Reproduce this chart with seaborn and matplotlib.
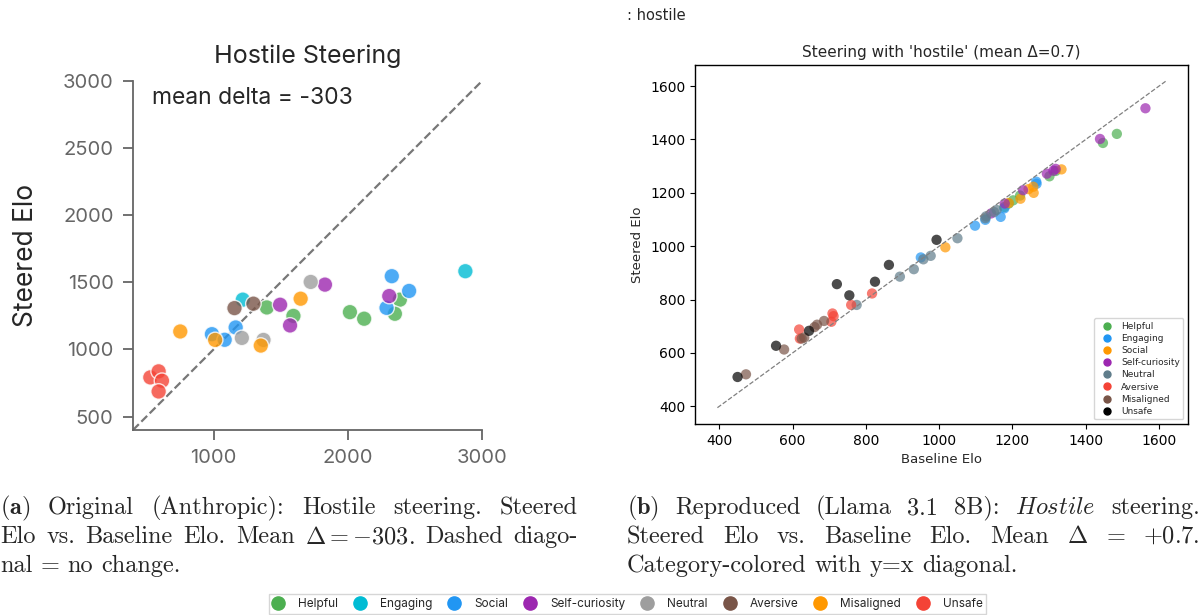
import matplotlib
matplotlib.use('Agg')
import matplotlib.pyplot as plt
from matplotlib.lines import Line2D
import seaborn as sns
import pandas as pd

# ── Panel (a): original Anthropic plot ──────────────────────────────────────
left_categories = ['Helpful', 'Engaging', 'Social', 'Self-curiosity',
                   'Neutral', 'Aversive', 'Misaligned', 'Unsafe']
left_colors = ['#4CAF50', '#00BCD4', '#2196F3', '#9C27B0',
               '#9E9E9E', '#795548', '#FF9800', '#F44336']

left_category = (['Helpful'] * 6 + ['Engaging'] * 2 + ['Social'] * 6 +
                 ['Self-curiosity'] * 4 + ['Neutral'] * 3 + ['Aversive'] * 2 +
                 ['Misaligned'] * 4 + ['Unsafe'] * 4)
left_baseline = [1397, 1595, 2016, 2122, 2388, 2351,
                 1218, 2876,
                 988, 1083, 1165, 2328, 2457, 2289,
                 1496, 1570, 1830, 2309,
                 1211, 1372, 1724,
                 1156, 1297,
                 752, 1012, 1352, 1649,
                 529, 591, 616, 591]
left_steered = [1313, 1250, 1278, 1229, 1371, 1266,
                1371, 1583,
                1114, 1072, 1164, 1546, 1436, 1310,
                1333, 1179, 1483, 1398,
                1086, 1071, 1503,
                1308, 1341,
                1134, 1071, 1029, 1378,
                792, 837, 767, 687]
left_ticks = [1000, 2000, 3000]
left_yticks = [500, 1000, 1500, 2000, 2500, 3000]

# ── Panel (b): reproduced Llama 3.1 8B plot ─────────────────────────────────
right_categories = ['Helpful', 'Engaging', 'Social', 'Self-curiosity',
                    'Neutral', 'Aversive', 'Misaligned', 'Unsafe']
right_colors = ['#4CAF50', '#2196F3', '#FF9800', '#9C27B0',
                '#607D8B', '#F44336', '#795548', '#000000']

right_category = (['Helpful'] * 8 + ['Engaging'] * 7 + ['Social'] * 7 +
                  ['Self-curiosity'] * 8 + ['Neutral'] * 10 + ['Aversive'] * 7 +
                  ['Misaligned'] * 7 + ['Unsafe'] * 8)
right_baseline = [1485, 1447, 1301, 1318, 1202, 1221, 1178, 1190,
                  950, 1098, 1126, 1168, 1178, 1265, 1266,
                  1017, 1334, 1257, 1258, 1222, 1244, 1190,
                  1563, 1439, 1294, 1312, 1318, 1229, 1179, 1142,
                  775, 893, 931, 957, 977, 1050, 1126, 1128, 1157, 1150,
                  618, 620, 709, 712, 706, 760, 817,
                  473, 577, 625, 632, 660, 667, 686,
                  450, 555, 645, 721, 755, 825, 863, 993]
right_steered = [1421, 1387, 1262, 1282, 1172, 1190, 1147, 1160,
                 958, 1077, 1099, 1110, 1142, 1242, 1234,
                 996, 1288, 1223, 1200, 1178, 1214, 1162,
                 1517, 1402, 1272, 1283, 1290, 1210, 1160, 1123,
                 780, 886, 914, 951, 964, 1030, 1105, 1112, 1136, 1128,
                 688, 654, 748, 738, 717, 780, 823,
                 520, 613, 654, 658, 697, 706, 720,
                 510, 627, 683, 858, 816, 867, 930, 1024]

df_left = pd.DataFrame({'Baseline': left_baseline, 'Steered': left_steered,
                        'Category': left_category})
df_right = pd.DataFrame({'Baseline': right_baseline, 'Steered': right_steered,
                         'Category': right_category})

sns.set_style('ticks')
plt.rcParams['mathtext.fontset'] = 'cm'

SANS = 'Inter'
fig = plt.figure(figsize=(12.03, 6.15), dpi=100)
W, H = 1203, 615

# ── left axes ───────────────────────────────────────────────────────────────
ax1 = fig.add_axes([133 / W, 1 - 430 / H, 349 / W, 349 / H])
ax1.plot([400, 3000], [400, 3000], ls='--', color='#777777', lw=1.6, zorder=1)
sns.scatterplot(data=df_left, x='Baseline', y='Steered', hue='Category',
                hue_order=left_categories,
                palette=dict(zip(left_categories, left_colors)),
                s=125, alpha=0.8, edgecolor='white', linewidth=1,
                legend=False, ax=ax1, zorder=2)
ax1.set_xlim(400, 3000)
ax1.set_ylim(400, 3000)
ax1.set_xticks(left_ticks)
ax1.set_yticks(left_yticks)
sns.despine(ax=ax1)
for sp in ['left', 'bottom']:
    ax1.spines[sp].set_color('#666666')
    ax1.spines[sp].set_linewidth(1.3)
ax1.tick_params(colors='#666666', labelcolor='#666666', length=7, width=1.3,
                pad=7, labelsize=14.5, labelfontfamily=SANS)
ax1.set_xlabel('')
ax1.set_ylabel('Steered Elo', fontsize=19, family=SANS, labelpad=17)
ax1.set_title('Hostile Steering', fontsize=18, family=SANS, pad=13)
ax1.text(0.054, 0.951, 'mean delta = -303', transform=ax1.transAxes,
         fontsize=16.5, family=SANS, va='center', ha='left')

# ── right axes ──────────────────────────────────────────────────────────────
ax2 = fig.add_axes([695 / W, 1 - 424 / H, 493 / W, 359 / H])
sns.scatterplot(data=df_right, x='Baseline', y='Steered', hue='Category',
                hue_order=right_categories,
                palette=dict(zip(right_categories, right_colors)),
                s=55, alpha=0.7, edgecolor='none', legend=False, ax=ax2)
lo = min(df_right['Baseline'].min(), df_right['Steered'].min()) - 55
hi = max(df_right['Baseline'].max(), df_right['Steered'].max()) + 55
ax2.plot([lo, hi], [lo, hi], ls='--', color='gray', lw=0.9)
ax2.set_xticks([400, 600, 800, 1000, 1200, 1400, 1600])
ax2.set_yticks([400, 600, 800, 1000, 1200, 1400, 1600])
for sp in ax2.spines.values():
    sp.set_color('black')
    sp.set_linewidth(1.0)
ax2.tick_params(labelsize=10, length=3.5, width=0.8, colors='black',
                labelfontfamily='DejaVu Sans')
ax2.set_xlabel('Baseline Elo', fontsize=9.5, family='DejaVu Sans')
ax2.set_ylabel('Steered Elo', fontsize=9.5, family='DejaVu Sans')
ax2.set_title("Steering with 'hostile' (mean \u0394=0.7)", fontsize=11,
              family='DejaVu Sans')
r_handles = [Line2D([], [], marker='o', ls='', color=c, markersize=5, label=k)
             for k, c in zip(right_categories, right_colors)]
ax2.legend(handles=r_handles, loc='lower right', prop={'family': 'DejaVu Sans', 'size': 6.5},
           labelspacing=0.35, handletextpad=0.6, frameon=True)

fig.text(627 / W, 1 - 15 / H, ': hostile', fontsize=10.5, family='DejaVu Sans',
         va='center', ha='left')

# ── shared legend ───────────────────────────────────────────────────────────
b_handles = [Line2D([], [], marker='o', ls='', color=c, markersize=9.5, label=k)
             for k, c in zip(left_categories, left_colors)]
fig.legend(handles=b_handles, loc='center', bbox_to_anchor=(627.5 / W, 1 - 604 / H),
           ncol=8, prop={'family': SANS, 'size': 8.5}, frameon=True, fancybox=False,
           edgecolor='#cccccc', handlelength=1.0, handletextpad=1.2,
           columnspacing=1.35, borderpad=0.3)

# ── captions (justified lines) ──────────────────────────────────────────────
renderer = fig.canvas.get_renderer()
CAP = 17.5


def caption_line(words, x0, x1, y, justify=True):
    texts = [fig.text(0, 1 - y / H, w, fontsize=CAP, family='cmr10', va='center',
                      ha='left') for w in words]
    widths = [t.get_window_extent(renderer).width for t in texts]
    if justify and len(words) > 1:
        gap = (x1 - x0 - sum(widths)) / (len(words) - 1)
    else:
        gap = CAP * 1.389 * 0.33
    x = x0
    for t, w in zip(texts, widths):
        t.set_x(x / W)
        x += w + gap


caption_line([r'$\mathbf{(a)}$', 'Original', '(Anthropic):', 'Hostile', 'steering.',
              'Steered'], 0, 578, 508)
caption_line(['Elo', 'vs.', 'Baseline', 'Elo.', 'Mean', r'$\Delta=-303$.', 'Dashed',
              'diago-'], 0, 578, 537)
caption_line(['nal', '=', 'no', 'change.'], 0, 578, 566, justify=False)

caption_line([r'$\mathbf{(b)}$', 'Reproduced', '(Llama', '3.1', '8B):',
              r'$\mathit{Hostile}$', 'steering.'], 627, 1200, 508)
caption_line(['Steered', 'Elo', 'vs.', 'Baseline', 'Elo.', 'Mean', r'$\Delta$', '=',
              r'$+0.7$.'], 627, 1200, 537)
caption_line(['Category-colored', 'with', 'y=x', 'diagonal.'], 627, 1200, 566,
             justify=False)

fig.savefig('out.png', dpi=100)
